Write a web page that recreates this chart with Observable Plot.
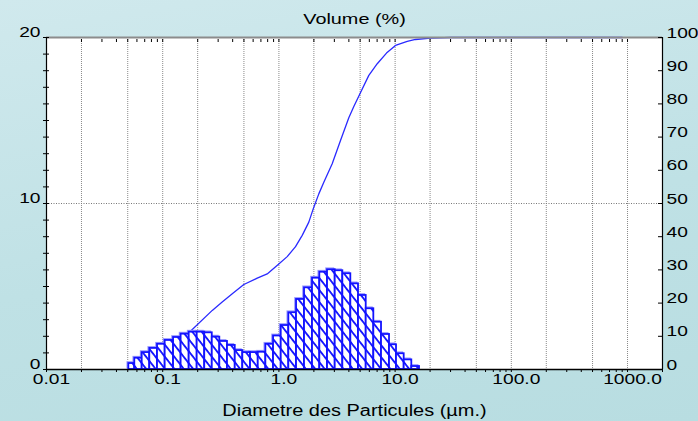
<!DOCTYPE html>
<html><head><meta charset="utf-8">
<script src="https://cdn.jsdelivr.net/npm/d3@7"></script>
<script src="https://cdn.jsdelivr.net/npm/@observablehq/plot@0.6"></script>
<style>
html,body{margin:0;padding:0;}
body{width:698px;height:421px;overflow:hidden;background:linear-gradient(170deg,#d0e9ed 0%,#bfe1e5 55%,#b8dde1 100%);}
#chart svg{display:block;}
</style></head><body><div id="chart"></div>
<script>
// Histogram bins (µm): lower edges, last value is upper edge of last bin
const binEdges = [0.0511,0.0575,0.0666,0.0774,0.0902,0.105,0.124,0.144,0.169,0.198,0.230,0.267,0.310,0.361,0.421,0.489,0.570,0.664,0.772,0.899,1.047,1.217,1.418,1.661,1.946,2.249,2.620,3.051,3.548,4.157,4.842,5.640,6.558,7.638,8.950,10.28,11.97,13.92,16.22];
// Volume % per bin (left axis)
const binVolume = [0.36,0.68,1.02,1.27,1.52,1.75,1.93,2.13,2.25,2.25,2.21,1.95,1.69,1.45,1.14,1.02,1.02,1.04,1.52,2.02,2.65,3.42,4.22,4.92,5.50,5.86,6.01,5.95,5.77,5.16,4.46,3.66,2.85,2.11,1.49,0.95,0.58,0.18];
// Cumulative curve (right axis, %)
const cumDiameter = [0.0511,0.0902,0.144,0.168,0.267,0.325,0.397,0.499,0.651,0.793,0.998,1.179,1.390,1.587,1.809,1.997,2.205,2.435,2.875,3.389,3.995,4.412,4.970,5.94,7.02,8.43,10.08,12.71,14.98,20.17,30,900];
const cumVolume = [0,3.3,8.4,11.05,17.8,20.3,22.8,25.6,27.5,28.8,31.8,34.0,37.0,40.4,44.4,48.9,52.9,56.4,62.0,69.0,75.8,79.2,83.0,88.6,92.1,95.3,97.6,98.8,99.4,99.8,100,100];
// Axis labels
const xTickValues = [0.01,0.1,1,10,100,1000];
const xTickLabels = ["0.01","0.1","1.0","10.0","100.0","1000.0"];
const xGridValues = [0.02,0.05,0.1,0.2,0.5,1,2,5,10,20,50,100,200,500,1000];
const leftLabelValues = [0,10,20];
const rightLabelValues = [0,10,20,30,40,50,60,70,80,90,100];
const title = "Volume (%)";
const xLabel = "Diametre des Particules (µm.)";

const bins = binVolume.map((v,i)=>({x1:binEdges[i], x2:binEdges[i+1], v}));
const cum = cumDiameter.map((d,i)=>({d, v:cumVolume[i]}));
const labelMap = new Map(xTickValues.map((v,i)=>[v,xTickLabels[i]]));
const minorTicks = [];
for (let p=-2;p<=3;p++) for (let m=1;m<=9;m++){const v=m*Math.pow(10,p); if (v<=2000) minorTicks.push(+v.toPrecision(3));}
const leftTicks = d3.range(0,21,1);
const rightTicks = rightLabelValues.map(d=>d/5);

const blue = "#1212ff";
const chart = Plot.plot({
  width: 698, height: 421,
  marginLeft: 46, marginRight: 36, marginTop: 37, marginBottom: 52,
  style: {background: "none", fontFamily: "'Liberation Sans', Arial, sans-serif", fontSize: "15px", color: "black", overflow: "visible"},
  x: {type: "log", domain: [0.01, 2000]},
  y: {domain: [0, 20]},
  marks: [
    Plot.frame({fill: "white", stroke: null}),
    Plot.ruleX(xGridValues, {stroke: "#8a8a8a", strokeDasharray: "1,1", strokeWidth: 1}),
    Plot.ruleY([10], {stroke: "#777", strokeDasharray: "1,1.5", strokeWidth: 1}),
    Plot.line(cum, {x: "d", y: d => d.v/5, stroke: "#2a2aff", strokeWidth: 1.3}),
    Plot.rect(bins, {x1: "x1", x2: "x2", y1: 0, y2: "v", fill: "none", stroke: "#9a9aff", strokeWidth: 1.3, dx: -1.2, dy: -1.2}),
    Plot.rect(bins, {x1: "x1", x2: "x2", y1: 0, y2: "v", fill: "url(#hatch)", stroke: blue, strokeWidth: 1.8}),
    Plot.ruleY([20], {stroke: "#8c8c8c", strokeWidth: 2}),
    Plot.ruleX([0.01], {stroke: "black", strokeWidth: 1.2}),
    Plot.ruleX([2000], {stroke: "black", strokeWidth: 1.2}),
    Plot.ruleY([0], {stroke: "black", strokeWidth: 1.5}),
    Plot.axisX({anchor: "bottom", ticks: minorTicks, tickSize: 3, text: null, label: null, stroke: "black"}),
    Plot.axisX({anchor: "top", ticks: minorTicks, tickSize: 3, dy: 4, text: null, label: null, stroke: "black"}),
    Plot.axisY({anchor: "left", ticks: leftTicks, tickSize: 6, dx: 3, text: null, label: null, stroke: "black"}),
    Plot.axisY({anchor: "right", ticks: rightTicks, tickSize: 5, dx: -5, text: null, label: null, stroke: "black"}),
    Plot.axisX({anchor: "bottom", ticks: xTickValues, tickFormat: d => labelMap.get(d), tickSize: 0, tickPadding: 4, dx: 5, lineAnchor: "top", fontSize: 15, fill: "black", label: null}),
    Plot.axisY({anchor: "left", ticks: leftLabelValues, tickSize: 0, tickPadding: 6, lineAnchor: "bottom", textAnchor: "end", fontSize: 15, fill: "black", dy: -1, label: null}),
    Plot.axisY({anchor: "right", ticks: rightTicks, tickFormat: d => String(Math.round(d*5)), tickSize: 0, tickPadding: 4, lineAnchor: "bottom", textAnchor: "start", fontSize: 15, fill: "black", dy: 0, label: null}),
    Plot.text([title], {frameAnchor: "top", dy: -14, lineAnchor: "bottom", fontSize: 15.5, fill: "black"}),
    Plot.text([xLabel], {frameAnchor: "bottom", dy: 46, lineAnchor: "bottom", fontSize: 15.6, fill: "black"})
  ]
});
const svg = chart.tagName.toLowerCase()==="svg" ? chart : chart.querySelector("svg");
d3.select(svg).insert("defs", ":first-child").html(
  `<pattern id="hatch" patternUnits="userSpaceOnUse" width="20" height="7.4" patternTransform="rotate(52)">
     <rect width="20" height="7.4" fill="white"/>
     <rect y="0" width="20" height="1.8" fill="${blue}"/>
   </pattern>`);
const SX = 1.28;
d3.select(svg).selectAll("text").each(function(){
  const x = +this.getAttribute("x") || 0;
  const t = this.getAttribute("transform") || "";
  this.setAttribute("transform", `${t} translate(${x},0) scale(${SX},1) translate(${-x},0)`);
});
document.getElementById("chart").appendChild(chart);
</script></body></html>
